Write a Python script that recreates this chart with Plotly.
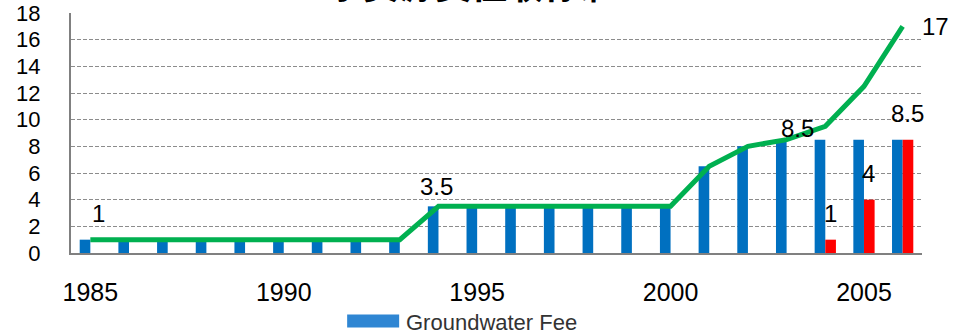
import plotly.graph_objects as go

# Yearly values
years = list(range(1985, 2007))
groundwater_fee = [1, 1, 1, 1, 1, 1, 1, 1, 1,
                   3.5, 3.5, 3.5, 3.5, 3.5, 3.5, 3.5,
                   6.5, 8, 8.4, 8.5, 8.5, 8.5]
surface_fee_years = [2004, 2005, 2006]
surface_fee = [1, 4, 8.5]
total_fee = [1, 1, 1, 1, 1, 1, 1, 1, 1,
             3.5, 3.5, 3.5, 3.5, 3.5, 3.5, 3.5,
             6.5, 8, 8.5, 9.5, 12.5, 17]

x_ticks = [1985, 1990, 1995, 2000, 2005]
y_ticks = list(range(0, 19, 2))

BLUE = "#0070C0"
RED = "#FF0000"
GREEN = "#00B050"
FONT = "Liberation Sans, Arial, sans-serif"

# red bars only exist for the last years; pad with None so groups stay aligned
red_vals = [surface_fee[surface_fee_years.index(y)] if y in surface_fee_years else None
            for y in years]

fig = go.Figure()
fig.add_trace(go.Bar(x=years, y=groundwater_fee, marker=dict(color=BLUE, line=dict(width=0)),
                     name="Groundwater Fee", showlegend=False))
fig.add_trace(go.Bar(x=years, y=red_vals, marker=dict(color=RED, line=dict(width=0)),
                     showlegend=False))
fig.add_trace(go.Scatter(x=years, y=total_fee, mode="lines",
                         line=dict(color=GREEN, width=5), showlegend=False))

annotations = []
label_font = dict(size=24, color="black", family=FONT)

# labels on the total line: (year, xshift, yshift)
line_labels = [(1985, 8, 11), (1994, -2, 4), (2003, 11, -4)]
for yr, dx, dy in line_labels:
    v = total_fee[years.index(yr)]
    annotations.append(dict(x=yr, y=v, text=f"{v:g}", xref="x", yref="y", showarrow=False,
                            xanchor="center", yanchor="bottom", xshift=dx, yshift=dy,
                            font=label_font))
# end of line
annotations.append(dict(x=years[-1], y=total_fee[-1], text=f"{total_fee[-1]:g}",
                        xref="x", yref="y", showarrow=False, xanchor="left", yanchor="middle",
                        xshift=17, yshift=0, font=label_font))
# labels above the red bars
for yr, v in zip(surface_fee_years, surface_fee):
    annotations.append(dict(x=yr, y=v, text=f"{v:g}", xref="x", yref="y", showarrow=False,
                            xanchor="center", yanchor="bottom", xshift=5, yshift=11,
                            font=label_font))

# title (sits mostly above the page)
annotations.append(dict(x=0.47, y=1.0, xref="paper", yref="paper", xanchor="center",
                        yanchor="bottom", yshift=2, showarrow=False,
                        text="<b>水资源费征收标准</b>",
                        font=dict(size=36, color="black", family="Noto Sans CJK SC")))

# legend
annotations.append(dict(x=0.5, y=-0.285, xref="paper", yref="paper", xanchor="left",
                        yanchor="middle", showarrow=False, text="Groundwater Fee",
                        xshift=-93, yshift=-1, font=dict(size=22, color="#333333", family=FONT)))

shapes = [dict(type="rect", xref="paper", yref="paper", x0=0.3245, x1=0.3856,
               y0=-0.31, y1=-0.256, fillcolor="#2F86D3", line=dict(width=0))]

fig.update_layout(
    width=963, height=333,
    margin=dict(l=71, r=41, t=13, b=80, autoexpand=False),
    paper_bgcolor="white", plot_bgcolor="white",
    barmode="group", bargap=0.45, bargroupgap=0,
    annotations=annotations, shapes=shapes,
    font=dict(family=FONT, color="black"),
)
fig.update_xaxes(range=[1984.5, 2006.5], tickvals=x_ticks, ticktext=[str(t) for t in x_ticks],
                 showgrid=False, zeroline=False, showline=True, linecolor="#808080", linewidth=2,
                 ticks="", ticklabelstandoff=16, automargin=False,
                 tickfont=dict(size=25, color="black"))
fig.update_yaxes(range=[0, 18], tickvals=y_ticks, showgrid=True, gridcolor="#8C8C8C",
                 gridwidth=1.3, griddash="4px,2px", zeroline=False, showline=True,
                 linecolor="#808080", linewidth=2, ticks="", ticklabelstandoff=24,
                 automargin=False, tickfont=dict(size=22, color="black"))

fig.write_html("out.html")
